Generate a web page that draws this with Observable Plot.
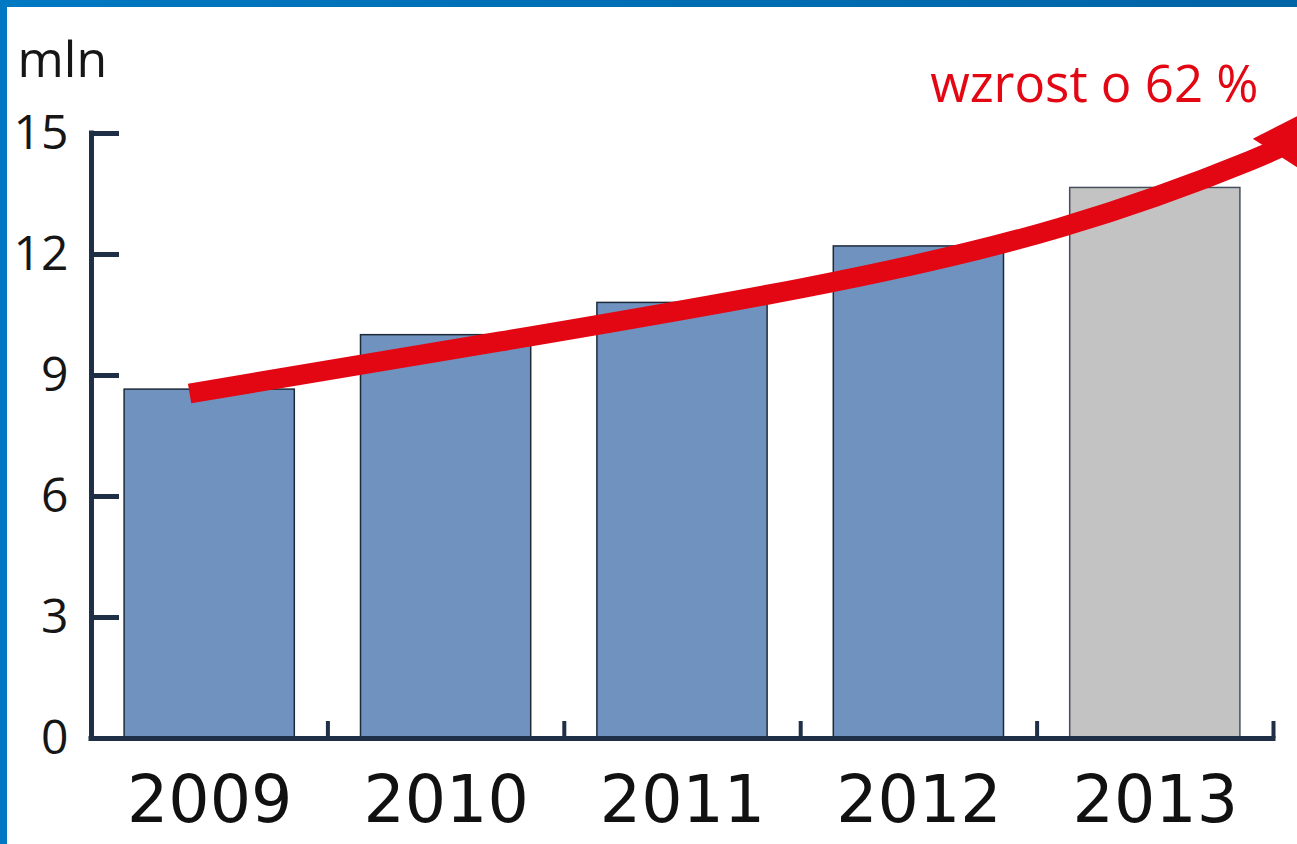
<!DOCTYPE html>
<html>
<head>
<meta charset="utf-8">
<script src="https://cdn.jsdelivr.net/npm/d3@7"></script>
<script src="https://cdn.jsdelivr.net/npm/@observablehq/plot@0.6"></script>
<style>
  html, body { margin: 0; padding: 0; background: #ffffff; }
  #wrap { position: relative; width: 1297px; height: 844px; overflow: hidden; background: #fff; }
  #wrap svg { display: block; }
  .edge-top { position: absolute; left: 0; top: 0; width: 1297px; height: 7px; background: linear-gradient(to right, #0078c2, #0064a6); }
  .edge-left { position: absolute; left: 0; top: 0; width: 7px; height: 844px; background: #0078c2; }
</style>
</head>
<body>
<div id="wrap">
  <div class="edge-top"></div>
  <div class="edge-left"></div>
</div>
<script>
// ---- data ----
const years = [2009, 2010, 2011, 2012, 2013];
const values = [8.65, 10.0, 10.8, 12.2, 13.65];   // mln
const estimated = [false, false, false, false, true];
const yTicks = [0, 3, 6, 9, 12, 15];
const xBoundaries = [2008.5, 2009.5, 2010.5, 2011.5, 2012.5, 2013.5];
const unitLabel = "mln";
const growthLabel = "wzrost o 62 %";
// growth arrow path (year position, value)
const arrowX = [2008.915, 2010.23, 2011.499, 2012.599, 2013.403, 2013.551];
const arrowY = [8.554, 9.844, 11.158, 12.67, 14.332, 14.778];
const arrowHead = {x: 2013.559, y: 14.827};

// ---- build ----
const rows = years.map((year, i) => ({year, value: values[i], estimated: estimated[i]}));
const arrowPts = arrowX.map((x, i) => ({x, y: arrowY[i]}));

const W = 1297, H = 844;
const mL = 91, mR = 24, mT = 133, mB = 106;
const frameW = W - mL - mR, frameH = H - mT - mB;
const navy = "#1f2f46";
const red = "#e30613";
const halfW = 0.36;

const chart = Plot.plot({
  width: W,
  height: H,
  marginLeft: mL,
  marginRight: mR,
  marginTop: mT,
  marginBottom: mB,
  style: {fontFamily: "'Open Sans', sans-serif", color: "#161616", background: "transparent"},
  x: {domain: [xBoundaries[0], xBoundaries[xBoundaries.length - 1]], label: null},
  y: {domain: [0, 15], label: null},
  marks: [
    Plot.rectY(rows, {
      x1: d => d.year - halfW,
      x2: d => d.year + halfW,
      y: "value",
      fill: d => d.estimated ? "#c3c3c3" : "#7092be",
      stroke: d => d.estimated ? "#46505c" : "#1f2a38",
      strokeWidth: 1.5
    }),
    Plot.ruleX([xBoundaries[0]], {stroke: navy, strokeWidth: 5, strokeLinecap: "square"}),
    Plot.ruleY([0], {stroke: navy, strokeWidth: 5, strokeLinecap: "square"}),
    Plot.tickY(yTicks.filter(v => v > 0), {y: d => d, stroke: navy, strokeWidth: 5, insetRight: frameW - 28}),
    Plot.tickX(xBoundaries.slice(1), {x: d => d, stroke: navy, strokeWidth: 4, insetTop: frameH - 17}),
    Plot.axisY({ticks: yTicks, tickSize: 0, tickPadding: 23, fontSize: 48, fontFamily: "'Open Sans', sans-serif", fill: "#161616", label: null}),
    Plot.axisX({ticks: years, tickSize: 0, tickPadding: 37, fontSize: 65, fontFamily: "'DejaVu Sans', sans-serif", fill: "#111", tickFormat: d => String(d), label: null}),
    Plot.line(arrowPts, {x: "x", y: "y", curve: "natural", stroke: red, strokeWidth: 20, strokeLinecap: "butt"}),
    Plot.dot([arrowHead], {x: "x", y: "y", symbol: "triangle", r: 22.3, rotate: 33, fill: red, stroke: "none"}),
    Plot.text([unitLabel], {text: d => d, frameAnchor: "top-left", textAnchor: "start", lineAnchor: "bottom", dx: -74, dy: -57, fontSize: 50, fill: "#161616"}),
    Plot.text([growthLabel], {text: d => d, frameAnchor: "top-right", textAnchor: "end", lineAnchor: "bottom", dx: -15, dy: -32, fontSize: 51, fill: red})
  ]
});
document.getElementById("wrap").prepend(chart);
</script>
</body>
</html>
